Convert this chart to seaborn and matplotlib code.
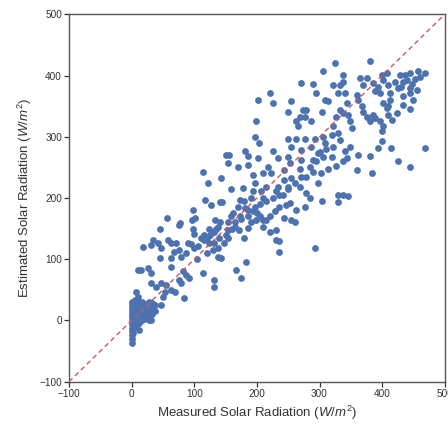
import matplotlib
matplotlib.use("Agg")
import matplotlib.pyplot as plt
import seaborn as sns
import pandas as pd

# (measured, estimated) pairs, grouped by region
night_cluster = [
    (0, -37), (0, -30), (0, -24), (0, -18), (0, -12), (0, -6), (0, 0), (0, 5), (0, 10), (0, 15), (0, 20), (0, 25), (0, 30),
    (2, -20), (2, -8), (2, 3), (2, 12), (2, 22), (2, 28),
    (5, -10), (5, -3), (5, 4), (5, 10), (5, 16), (5, 22), (5, 28), (5, 33),
    (8, -5), (8, 2), (8, 8), (8, 14), (8, 20), (8, 26), (8, 32),
    (12, -16), (12, -4), (12, 3), (12, 9), (12, 15), (12, 21), (12, 28),
    (16, 0), (16, 6), (16, 12), (16, 18), (16, 24), (16, 30),
    (20, 2), (20, 8), (20, 14), (20, 20), (20, 27),
    (24, 5), (24, 12), (24, 18), (24, 25),
    (28, 0), (28, 8), (28, 16), (28, 24), (28, 30),
    (33, 10), (33, 20), (33, 28), (38, 15), (38, 25), (31, 0),
]

low_range = [
    (45, 150), (76, 156), (98, 150), (100, 142), (123, 150), (131, 145), (115, 140), (120, 134),
    (138, 153), (154, 148), (165, 153), (172, 148), (180, 134),
    (18, 120), (34, 131), (42, 126), (31, 123), (47, 118), (58, 131), (63, 126), (71, 126),
    (76, 115), (68, 112), (79, 104), (87, 110), (90, 126), (100, 118), (106, 121), (116, 131),
    (124, 126), (132, 126), (138, 118), (140, 134), (154, 134), (148, 126),
    (45, 102), (63, 102), (63, 88), (10, 83), (15, 83), (26, 85), (31, 77),
    (82, 80), (87, 74), (92, 69), (76, 66), (79, 61),
    (114, 77), (138, 104), (143, 102), (132, 66), (132, 55), (167, 83), (175, 69), (183, 96),
    (31, 61), (39, 55), (47, 61), (55, 58), (63, 50), (69, 47),
    (50, 39), (47, 26), (53, 47), (84, 36), (7, 47), (10, 39),
    (95, 125), (105, 100), (110, 135), (120, 110), (125, 140), (130, 115), (135, 150),
]

mid_range = [
    (151, 270), (156, 270), (154, 257), (114, 243), (122, 225), (143, 233), (159, 214), (173, 197),
    (194, 211), (210, 200), (207, 211), (231, 211),
    (117, 197), (127, 189), (141, 194), (144, 194), (98, 180), (56, 167), (77, 159), (96, 164),
    (101, 167), (133, 164), (141, 161), (154, 161), (159, 170), (162, 175), (173, 170), (181, 183),
    (186, 180), (194, 178), (197, 186), (199, 164), (205, 170), (210, 164), (215, 164), (221, 170),
    (229, 178), (231, 148), (221, 145), (210, 153), (186, 151), (231, 132),
    (293, 119), (304, 195), (330, 194), (330, 205), (338, 205), (346, 204),
    (244, 167), (255, 164), (260, 160), (263, 180), (276, 186), (284, 200), (279, 208),
    (242, 205), (236, 186), (247, 189), (252, 191), (236, 129), (236, 112),
    (150, 140), (160, 150), (165, 160), (175, 165), (185, 170), (190, 160), (200, 175), (205, 190),
    (215, 195), (225, 200), (235, 205), (170, 185), (180, 195), (190, 200),
]

upper_range = [
    (306, 407), (271, 387), (290, 386), (295, 372),
    (221, 371), (226, 355), (202, 360),
    (255, 358), (249, 340), (274, 344), (279, 344), (268, 333), (263, 325), (266, 317), (277, 333),
    (286, 326), (304, 340), (308, 360), (313, 358),
    (199, 325), (197, 299), (203, 290),
    (250, 297), (263, 297), (277, 297), (293, 297), (306, 300), (320, 303), (255, 284), (271, 278),
    (287, 284), (308, 289), (297, 273), (250, 267), (271, 262), (290, 262), (306, 267), (320, 267),
    (181, 276), (186, 268), (202, 265), (170, 251), (186, 254), (194, 238), (218, 251), (234, 265),
    (226, 276), (210, 240), (223, 240), (244, 246), (252, 257), (268, 248), (290, 243), (303, 240),
    (314, 248), (244, 229), (255, 232), (279, 235), (298, 224), (197, 224), (178, 216), (215, 218),
    (234, 218), (250, 218), (268, 218),
    (250, 215), (260, 225), (270, 235), (285, 250), (295, 260), (300, 275), (310, 280),
]

high_range = [
    (324, 420), (380, 423),
    (338, 401), (338, 390), (332, 385), (322, 385), (330, 371), (340, 371),
    (364, 396), (375, 396), (370, 385), (385, 388), (399, 401), (407, 404), (401, 393), (393, 382),
    (409, 385), (388, 374), (396, 371), (412, 371), (428, 401), (436, 401), (444, 404), (457, 407),
    (468, 404), (433, 390), (420, 390), (425, 380), (444, 380), (412, 360), (433, 366), (444, 371),
    (449, 360), (433, 352), (444, 345), (423, 339), (409, 350), (401, 355),
    (452, 395), (440, 392), (460, 398), (448, 386), (430, 382), (455, 376),
    (359, 369), (362, 360), (367, 350), (370, 341), (375, 333), (380, 325), (385, 336), (388, 330),
    (396, 325), (401, 317), (399, 309), (407, 347), (409, 336), (415, 328), (343, 355), (346, 336),
    (332, 344), (338, 339), (327, 333), (348, 325), (351, 314), (322, 317), (330, 306), (332, 295),
    (322, 284), (340, 276), (343, 265), (338, 260), (327, 252), (348, 284), (362, 271), (380, 269),
    (393, 282), (399, 293), (414, 282), (425, 261), (445, 251), (469, 281), (383, 241), (359, 246),
]

rows = night_cluster + low_range + mid_range + upper_range + high_range
df = pd.DataFrame(rows, columns=["measured", "estimated"])

axis_min, axis_max = -100, 500
tick_values = [-100, 0, 100, 200, 300, 400, 500]

sns.set_theme(style="ticks")
plt.rcParams["font.family"] = ["Liberation Sans", "DejaVu Sans"]
plt.rcParams["mathtext.fontset"] = "custom"
plt.rcParams["mathtext.it"] = "Liberation Sans:italic"
plt.rcParams["mathtext.rm"] = "Liberation Sans"

fig = plt.figure(figsize=(4.48, 4.24), dpi=100)
ax = fig.add_axes([0.154, 0.0998, 0.839, 0.8665])

sns.scatterplot(data=df, x="measured", y="estimated", ax=ax, color="#4C72B0",
                s=24, linewidth=0, alpha=1.0, zorder=2)
ax.plot([axis_min, axis_max], [axis_min, axis_max], linestyle=(0, (3.5, 2.5)),
        color="#D0555A", linewidth=1.0, zorder=3)

ax.set_xlim(axis_min, axis_max)
ax.set_ylim(axis_min, axis_max)
ax.set_xticks(tick_values)
ax.set_yticks(tick_values)
ax.tick_params(axis="both", labelsize=7.2, colors="#333333", length=3.5, width=0.9, pad=1.5)
for sp in ax.spines.values():
    sp.set_color("#555555")
    sp.set_linewidth(1.0)

ax.set_xlabel("Measured Solar Radiation ($W/m^2$)", fontsize=9.5, color="#333333", labelpad=4)
ax.set_ylabel("Estimated Solar Radiation ($W/m^2$)", fontsize=9.5, color="#333333", labelpad=4)

fig.savefig("out.png", dpi=100)
